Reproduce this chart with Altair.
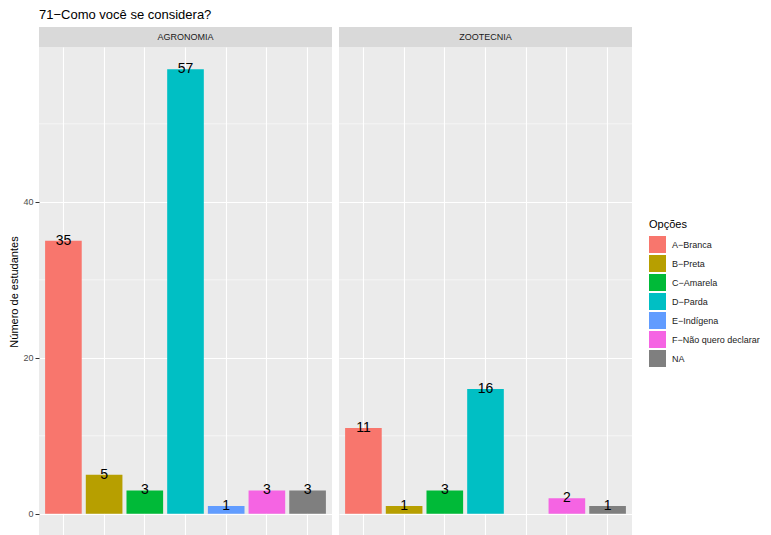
import altair as alt
import pandas as pd

opcoes = ["A−Branca", "B−Preta", "C−Amarela", "D−Parda", "E−Indígena",
          "F−Não quero declarar", "NA"]
cores = ["#F8766D", "#B79F00", "#00BA38", "#00BFC4", "#619CFF", "#F564E3", "#7F7F7F"]
cursos = ["AGRONOMIA", "ZOOTECNIA"]
agronomia = [35, 5, 3, 57, 1, 3, 3]
zootecnia = [11, 1, 3, 16, None, 2, 1]
y_major = [0, 20, 40]
y_minor = [10, 30, 50]

rows = []
for curso, vals in zip(cursos, [agronomia, zootecnia]):
    for o, v in zip(opcoes, vals):
        if v is not None:
            rows.append({"curso": curso, "opcao": o, "n": v})
df = pd.DataFrame(rows)
minor_df = pd.DataFrame({"n": y_minor})

W, H = 293, 489
FONT = "Liberation Sans"

yscale = alt.Scale(domain=[-2.85, 59.85], nice=False, zero=False)
xscale = alt.Scale(domain=opcoes, paddingInner=0.1, paddingOuter=0.15)


def panel(curso, first):
    if first:
        yaxis = alt.Axis(values=y_major, grid=True, gridColor="white", gridWidth=1.1,
                         domain=False, tickColor="#333333", tickSize=4, labelPadding=2,
                         labelFontSize=9, labelColor="#4D4D4D", labelFont=FONT,
                         title="Número de estudantes", titleFontSize=11,
                         titleFontWeight="normal", titleColor="black", titleFont=FONT,
                         titlePadding=3)
    else:
        yaxis = alt.Axis(values=y_major, grid=True, gridColor="white", gridWidth=1.1,
                         domain=False, ticks=False, labels=False, title=None)
    Y = alt.Y("n:Q", scale=yscale, axis=yaxis)
    X = alt.X("opcao:N", scale=xscale,
              axis=alt.Axis(labels=False, title=None, domain=False, grid=True,
                            gridColor="white", gridWidth=1.1, tickColor="#333333",
                            tickSize=4, bandPosition=0.5))
    data = alt.Chart(df).transform_filter(alt.datum.curso == curso)
    minor = alt.Chart(minor_df).mark_rule(color="white", strokeWidth=0.55).encode(y=Y)
    bars = data.mark_bar().encode(
        x=X, y=Y, y2=alt.datum(0),
        color=alt.Color("opcao:N", scale=alt.Scale(domain=opcoes, range=cores),
                        legend=alt.Legend(title="Opções", orient="none",
                                          legendX=610, legendY=172,
                                          symbolType="square", symbolSize=289,
                                          symbolStrokeWidth=0, symbolOpacity=1,
                                          rowPadding=2, labelFontSize=9,
                                          labelFont=FONT, labelColor="#1A1A1A",
                                          titleFontSize=11, titleFont=FONT,
                                          titleFontWeight="normal", titleColor="black",
                                          titlePadding=6, labelOffset=6)),
    )
    labels = data.mark_text(fontSize=14, font=FONT, color="black", align="center",
                            baseline="middle").encode(x=X, y=Y, text="n:Q")
    sdata = alt.Chart(pd.DataFrame({"curso": [curso]}))
    strip = sdata.mark_rect(color="#D9D9D9").encode(
        x=alt.value(0), x2=alt.value(W), y=alt.value(-20), y2=alt.value(0))
    strip_text = sdata.mark_text(fontSize=9, font=FONT, color="#1A1A1A",
                                 baseline="middle", align="center").encode(
        x=alt.value(W / 2), y=alt.value(-10), text="curso:N")
    return alt.layer(minor, bars, labels, strip, strip_text).properties(width=W, height=H)


chart = alt.hconcat(panel(cursos[0], True), panel(cursos[1], False), spacing=5).properties(
    title=alt.TitleParams("71−Como você se considera?", anchor="start", frame="group",
                          fontSize=13, font=FONT, fontWeight="normal", color="black",
                          offset=5),
    padding={"left": 0, "top": 1, "right": 0, "bottom": 0},
).configure_view(fill="#EBEBEB", stroke=None)

chart.save("out.html", embed_options={"renderer": "svg", "actions": False})
